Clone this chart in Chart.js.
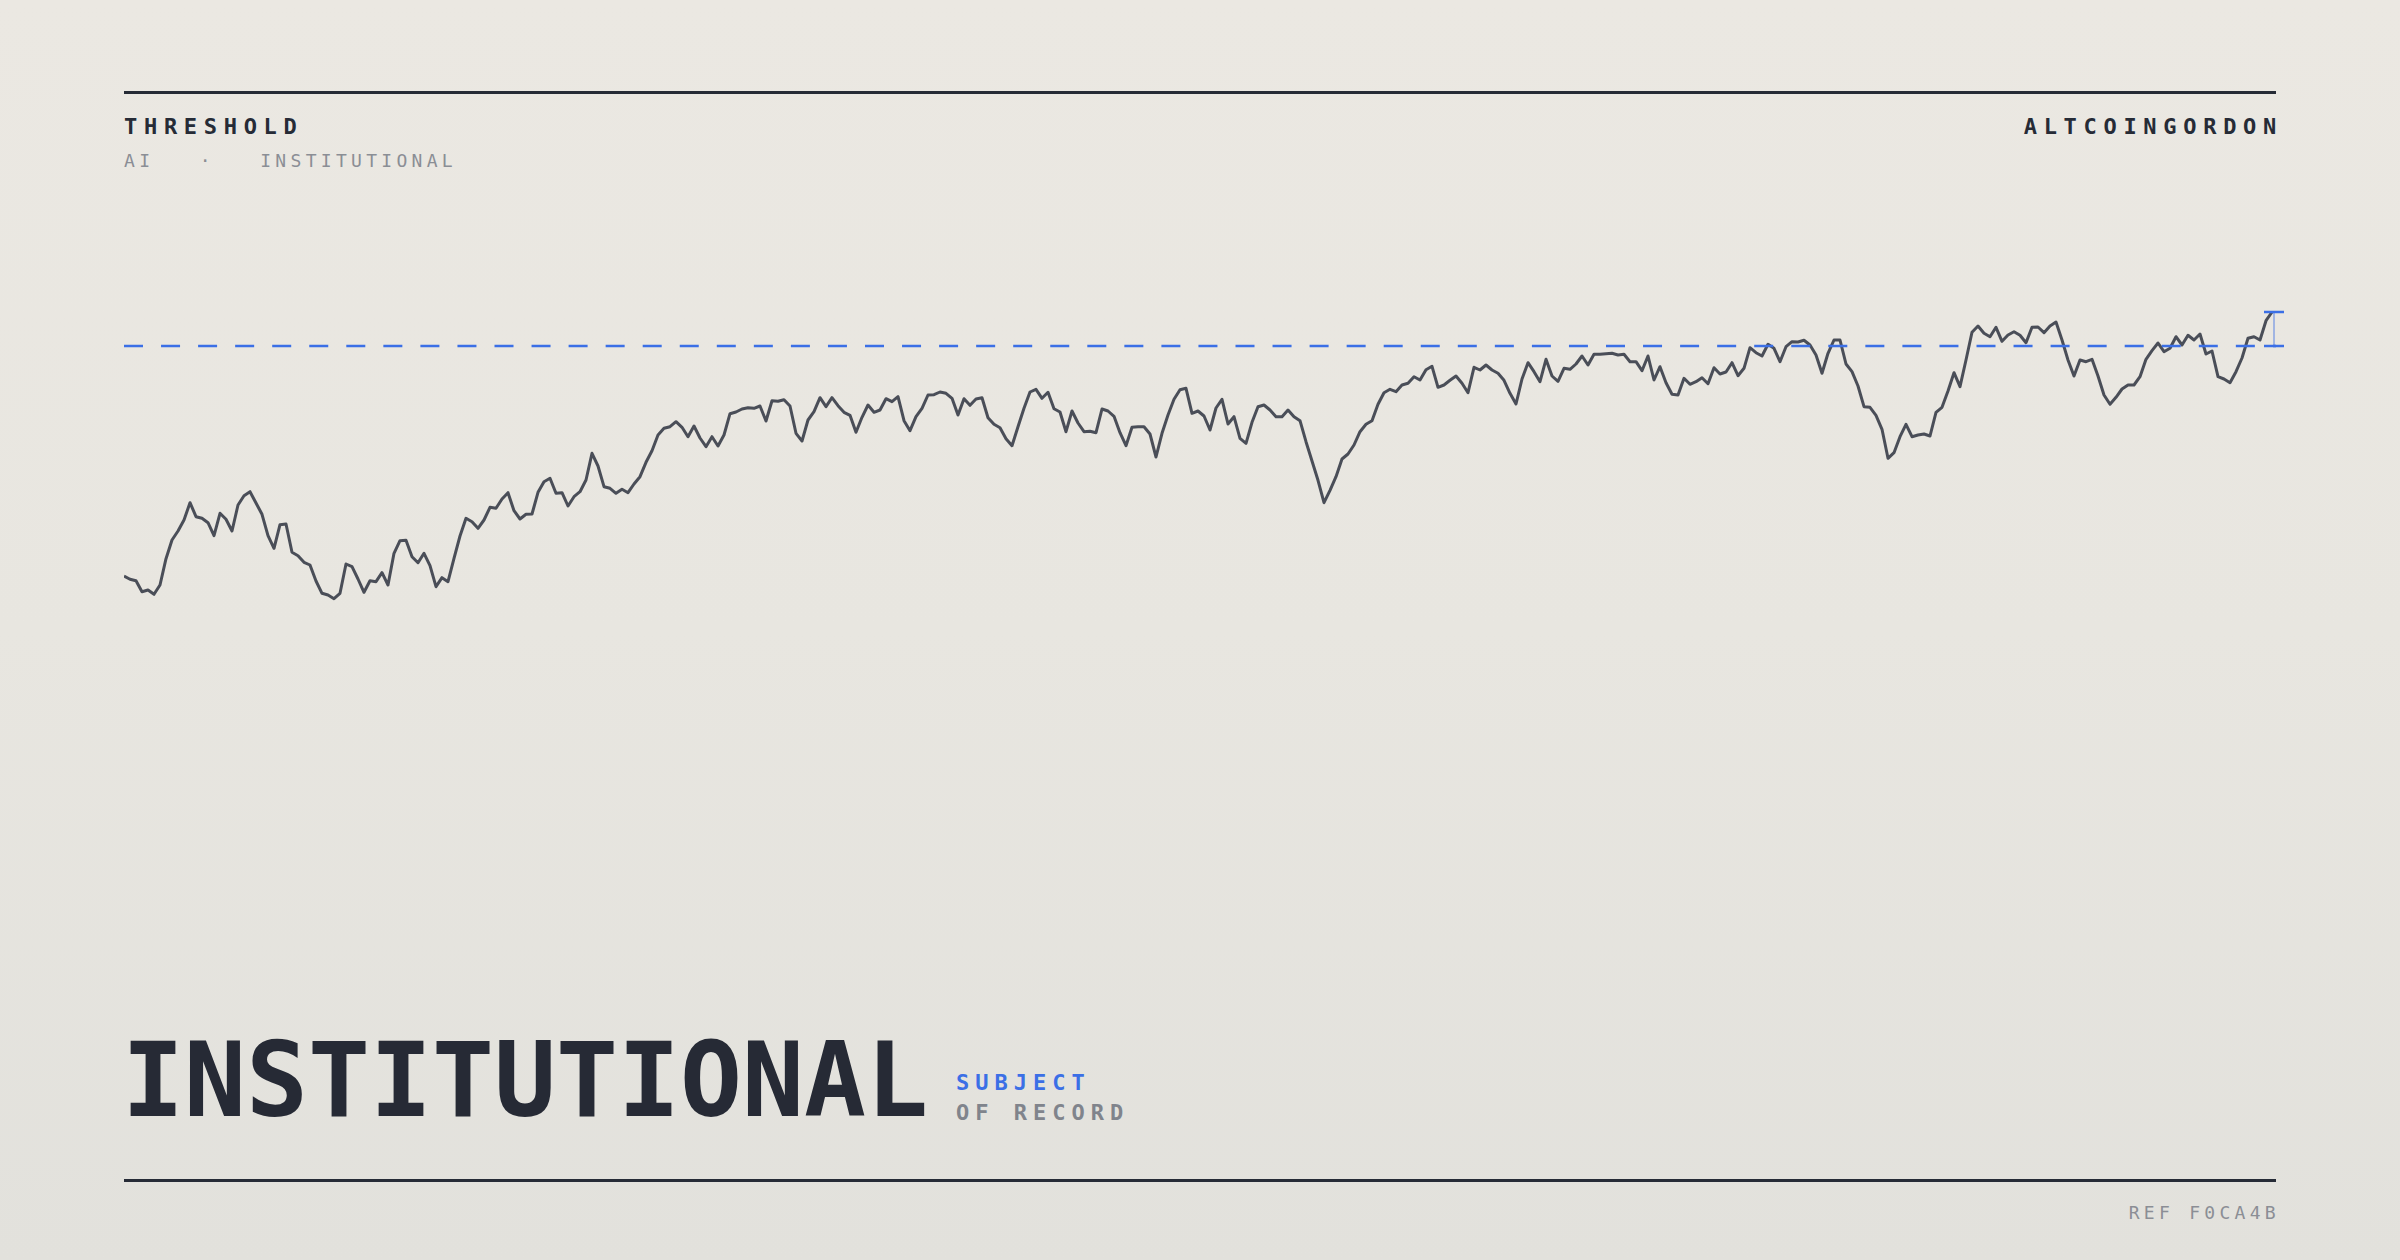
<!DOCTYPE html>
<html>
<head>
<meta charset="utf-8">
<script src="https://cdn.jsdelivr.net/npm/chart.js@4.4.1/dist/chart.umd.min.js"></script>
<style>
    html, body {
        margin: 0;
        padding: 0;
    }
    body {
        width: 2400px;
        height: 1260px;
        position: relative;
        overflow: hidden;
        background: linear-gradient(180deg, #ebe8e2 0%, #e8e6e0 50%, #e2e1dc 100%);
        font-family: "DejaVu Sans Mono", "Liberation Mono", monospace;
    }
    .rule {
        position: absolute;
        left: 124px;
        width: 2152px;
        height: 3px;
        background: #262b36;
    }
    .label {
        position: absolute;
        line-height: 1;
        white-space: pre;
    }
    .kicker {
        font-size: 22px;
        font-weight: bold;
        letter-spacing: 6.7px;
        color: #262b36;
    }
    .meta {
        font-size: 18px;
        letter-spacing: 4.3px;
        color: #8b8e95;
    }
    #chart-wrap {
        position: absolute;
        left: 124px;
        top: 250px;
        width: 2176px;
        height: 400px;
    }
</style>
</head>
<body>
<div class="rule" style="top:91px"></div>
<div class="label kicker" style="left:124px; top:116px">THRESHOLD</div>
<div class="label meta" style="left:124px; top:152px">AI   ·   INSTITUTIONAL</div>
<div class="label kicker" style="right:117px; top:116px">ALTCOINGORDON</div>

<div id="chart-wrap"><canvas id="threshold-line" width="2176" height="400"></canvas></div>

<div class="label" style="left:122px; top:1029px; font-size:103px; font-weight:bold; color:#262a35">INSTITUTIONAL</div>
<div class="label" style="left:956px; top:1072px; font-size:22px; font-weight:bold; letter-spacing:6px; color:#3b6fe6">SUBJECT</div>
<div class="label" style="left:956px; top:1102px; font-size:22px; font-weight:bold; letter-spacing:6px; color:#80848c">OF RECORD</div>
<div class="rule" style="top:1179px"></div>
<div class="label meta" style="right:120px; top:1204px">REF F0CA4B</div>

<script>
"use strict";

/* data */
var levels = [
    124, 120.7, 119.3, 108.3, 110, 105.7, 115, 141.3, 160, 169,
    180, 197.3, 183.3, 181.7, 177.3, 164.3, 186.7, 180.7, 169, 195,
    204.3, 208.3, 197, 185.7, 164.3, 151.7, 175.3, 176, 147.7, 144.3,
    137.7, 135, 119, 106.7, 105, 101.3, 106.7, 136, 133.3, 121,
    107.7, 119.3, 118.3, 127.3, 115, 146.7, 159.3, 159.7, 143.3, 137.3,
    146.7, 134.3, 113.3, 122.3, 118.3, 141.7, 164, 181.7, 178.3, 171.7,
    180, 192.7,
    191.7, 201, 207.3, 189.3, 181, 185.7, 186, 207.7, 218.3, 221.7,
    206.7, 207.3, 194, 203.3, 208.3, 220, 246.7, 234, 213.3, 211.7,
    206.7, 210.7, 207.3, 216, 223.3, 237.7, 249.3, 265, 271.7, 273.3,
    278.3, 272.7, 263.3, 274, 262, 253.3, 263.3, 254, 265, 286.3,
    288, 291, 292.3, 291.7, 294, 279, 299.3, 298.7, 300.3, 294,
    266.7, 259, 280, 288.3, 302.3, 293.3, 302.3, 294.3, 287.7, 284.7,
    267.7, 282.7,
    295, 287.7, 290, 301.3, 298.3, 303.3, 279.3, 269.3, 283.3, 291.7,
    305, 305.3, 308, 306.7, 301.7, 285, 301.3, 294.7, 301, 302.3,
    282.3, 275.7, 272.3, 261.3, 254.3, 273.3, 291.7, 308, 310.7, 301.7,
    307.7, 291.3, 288, 268.3, 289, 277, 268.3, 268.7, 267.3, 291,
    289, 283.7, 267.3, 254.3, 272.7, 273.3, 273.3, 266, 243, 266.7,
    285, 300.7, 310.3, 311.7, 286.7, 289, 284, 270, 292, 300.7,
    276, 283.3,
    261.7, 256.7, 277.7, 293.3, 295, 290, 283.3, 283.3, 290, 283.3,
    279.3, 258.3, 239, 219.7, 197.3, 209.7, 223.3, 241, 246, 255,
    268.3, 275.7, 279.3, 295.7, 307.3, 310.7, 308.3, 315, 316.7, 323.3,
    320, 330.3, 333.7, 312.7, 315, 319.7, 324, 316.7, 307.3, 332.7,
    330, 335, 330, 326.7, 319.7, 306.7, 296, 321, 337.3, 328.3,
    318.3, 340.7, 324, 318.7, 331.7, 330.7, 336, 344, 335, 345.7,
    345.7,
    346.3, 346.7, 345, 345.7, 338.3, 338.3, 329.3, 344, 320, 333.3,
    317.3, 305.7, 305, 321.7, 315.7, 318.3, 322.3, 316.3, 332.3, 326,
    328, 337.3, 324.3, 331.7, 352.3, 347.3, 344, 355.7, 351.7, 338.3,
    353.3, 358.3, 358, 359.7, 355, 345, 326.7, 346.7, 360, 360,
    336, 328.3, 314, 293.3, 292.7, 284.7, 270.7, 241.7, 247.3, 263.3,
    275.7, 263.3, 265, 266, 264, 287.7, 292.7, 309, 327.3, 313.3,
    340, 367.7,
    374, 366.7, 363.3, 372.7, 358.7, 365, 368.3, 364.7, 357.3, 372.7,
    373, 367.3, 374, 378, 360, 340, 324, 340, 338.3, 340.7,
    324, 305, 295.7, 302.7, 311, 315, 315, 323.3, 340.7, 349.3,
    357, 348.3, 351.7, 363.3, 355, 364.7, 360, 366, 346, 349,
    323.3, 321, 317.3, 328.3, 342, 361.7, 363.3, 360, 379.3, 388
];
var sessions = levels.map(function (v, i) { return i; });
var threshold = 354;
var axisRange = [50, 450];

/* threshold + gap marker */
var thresholdPlugin = {
    id: "thresholdLine",
    afterDatasetsDraw: function (chart) {
        var ctx = chart.ctx;
        var area = chart.chartArea;
        var y = chart.scales.y.getPixelForValue(threshold);
        var lastIdx = levels.length - 1;
        var xEnd = chart.scales.x.getPixelForValue(lastIdx) + 2;
        var yEnd = chart.scales.y.getPixelForValue(levels[lastIdx]);

        ctx.save();
        ctx.strokeStyle = "#3b6fe6";
        ctx.lineWidth = 2.5;
        ctx.setLineDash([19, 18.05]);
        ctx.beginPath();
        ctx.moveTo(area.left, y);
        ctx.lineTo(area.right + 4, y);
        ctx.stroke();

        ctx.setLineDash([]);
        ctx.strokeStyle = "rgba(59, 111, 230, 0.55)";
        ctx.lineWidth = 1.5;
        ctx.beginPath();
        ctx.moveTo(xEnd, y);
        ctx.lineTo(xEnd, yEnd);
        ctx.stroke();

        ctx.strokeStyle = "#3b6fe6";
        ctx.lineWidth = 2.5;
        ctx.beginPath();
        ctx.moveTo(xEnd - 10, y);
        ctx.lineTo(xEnd + 10, y);
        ctx.moveTo(xEnd - 10, yEnd);
        ctx.lineTo(xEnd + 10, yEnd);
        ctx.stroke();
        ctx.restore();
    },
};

var myCanvas = document.getElementById("threshold-line");
var myChart = new Chart(myCanvas, {
    type: "line",
    data: {
        labels: sessions,
        datasets: [
            {
                data: levels,
                borderColor: "#4a4e58",
                borderWidth: 3,
                pointRadius: 0,
                tension: 0,
                fill: false,
                borderJoinStyle: "round",
            },
        ],
    },
    options: {
        responsive: false,
        animation: false,
        layout: {
            padding: { left: 0, right: 28, top: 0, bottom: 0 },
        },
        scales: {
            x: { display: false },
            y: { display: false, min: axisRange[0], max: axisRange[1] },
        },
        plugins: {
            legend: { display: false },
            tooltip: { enabled: false },
        },
    },
    plugins: [thresholdPlugin],
});
</script>
</body>
</html>
